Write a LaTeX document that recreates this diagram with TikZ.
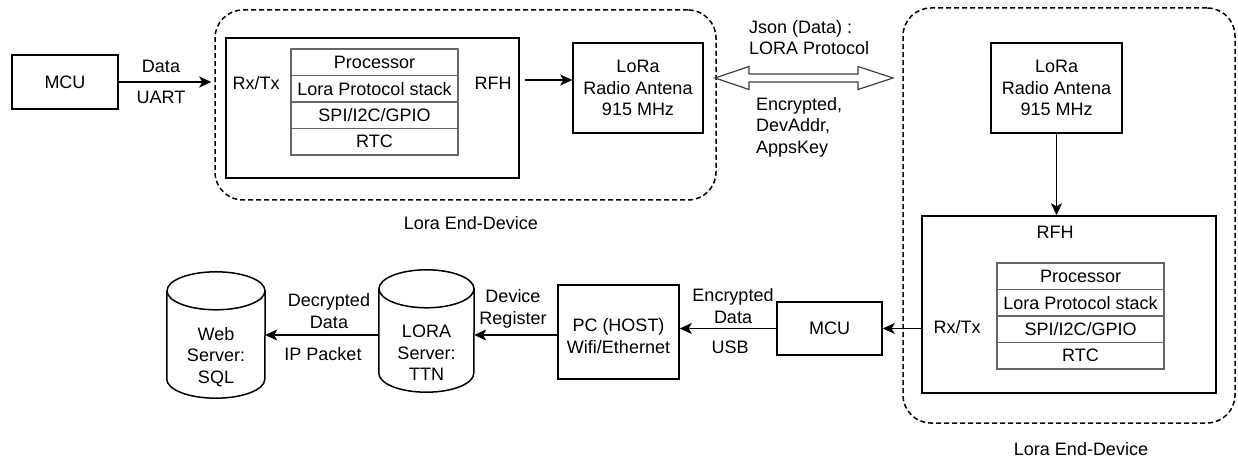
\documentclass[tikz,border=0pt]{standalone}
\usepackage{fontspec}
\setmainfont{Liberation Sans}
\usetikzlibrary{arrows.meta,calc}

% outline of a vertical cylinder drawn round a (text-free) node
\newcommand{\cylout}[3]{%
  \draw[line width=1.5pt,fill=white] ($(#1.north west)+(0,#3)$) -- ($(#1.south west)+(0,-#3)$)
     arc[start angle=180,end angle=360,x radius=#2pt,y radius=#3pt]
     -- ($(#1.north east)+(0,#3)$);
  \draw[line width=1.5pt,fill=white] ($(#1.north)+(0,#3)$) ellipse [x radius=#2pt, y radius=#3pt];
}

\begin{document}
\begin{tikzpicture}[x=1pt,y=-1pt,
  every node/.style={font=\fontsize{18}{21.6}\selectfont, text=black},
  box/.style={draw, line width=1.5pt, fill=white, inner sep=0pt, align=center},
  row/.style={draw=black!60, line width=1.5pt, minimum width=167pt, minimum height=26.5pt, inner sep=0pt},
  group/.style={draw, line width=1.5pt, dash pattern=on 5pt off 3pt, rounded corners=28pt, minimum width=#1},
  zone/.style={inner sep=0pt},
  link/.style={line width=1.5pt, -{Stealth[length=12pt,width=11pt,inset=3pt]}},
  lbl/.style={inner sep=0pt, align=center},
]
\useasboundingbox (0,0) rectangle (1238,462);

% ---------- transmitting end-device ----------
\node[box, minimum width=106pt, minimum height=54pt] (mcu1) at (65,82) {MCU};

\node[group=501pt, minimum height=190pt] (dev1) at (465.5,105) {};
\node[box, minimum width=293pt, minimum height=140pt] (core1) at (372.5,108) {};
\node[row] (proc1) at (374.5,62.25) {Processor};
\node[row] (stack1) at (374.5,88.75) {Lora Protocol stack};
\node[row] (spi1) at (374.5,115.25) {SPI/I2C/GPIO};
\node[row] (rtc1) at (374.5,141.75) {RTC};
\node[lbl] (rxtx1) at (256,83) {Rx/Tx};
\node[lbl] (rfh1) at (493,83) {RFH};
\node[box, minimum width=130pt, minimum height=90pt] (ant1) at (638,88)
  {LoRa\\Radio Antena\\915 MHz};
\node[lbl] (cap1) at (471,223) {Lora End-Device};

\draw[link] (mcu1.east) -- ([xshift=-3pt]mcu1.east -| dev1.west);
\node[lbl] (datalbl) at (161,66) {Data};
\node[lbl] (uartlbl) at (161,97) {UART};

\coordinate (rfhout) at (525,80);
\draw[link] (rfhout) -- (rfhout -| ant1.west);

% ---------- radio link ----------
\coordinate (linkl) at (715,78);
\coordinate (linkr) at (893,78);
\draw[line width=1.2pt, draw=black!75, fill=white, line join=miter]
  (linkl) -- ($(linkl)+(34,-11.5)$) -- ($(linkl)+(34,-4)$) -- ($(linkr)+(-35,-4)$)
  -- ($(linkr)+(-35,-11.5)$) -- (linkr) -- ($(linkr)+(-35,11.5)$) -- ($(linkr)+(-35,4)$)
  -- ($(linkl)+(34,4)$) -- ($(linkl)+(34,11.5)$) -- cycle;
\node[lbl, align=left, anchor=west] (jsonlbl) at (749,37.5) {Json (Data) :\\LORA Protocol};
\node[lbl, align=left, anchor=west] (keylbl) at (756,127) {Encrypted,\\DevAddr,\\AppsKey};

% ---------- receiving end-device ----------
\node[group=332pt, minimum height=415pt] (dev2) at (1069,215.5) {};
\node[box, minimum width=131pt, minimum height=90pt] (ant2) at (1056.5,88)
  {LoRa\\Radio Antena\\915 MHz};
\node[box, minimum width=294pt, minimum height=177pt] (core2) at (1069,304.5) {};
\node[lbl] (rfh2) at (1055,232) {RFH};
\node[row] (proc2) at (1080.5,276.25) {Processor};
\node[row] (stack2) at (1080.5,302.75) {Lora Protocol stack};
\node[row] (spi2) at (1080.5,329.25) {SPI/I2C/GPIO};
\node[row] (rtc2) at (1080.5,355.75) {RTC};
\node[lbl] (rxtx2) at (957,327) {Rx/Tx};
\node[lbl] (cap2) at (1081,449) {Lora End-Device};

\draw[link] (ant2.south) -- (ant2.south |- core2.north);

\node[box, minimum width=105pt, minimum height=53pt] (mcu2) at (829.5,328.5) {MCU};
\draw[link] (core2.west |- mcu2) -- (mcu2.east);

% ---------- host side ----------
\node[box, minimum width=121pt, minimum height=94pt] (pc) at (618.5,332) {};
\node[lbl] (pctext) at (618.5,336) {PC (HOST)\\Wifi/Ethernet};
\draw[link] (mcu2.west) -- (mcu2.west -| pc.east);
\node[lbl] (enclbl) at (733,306) {Encrypted\\Data};
\node[lbl] (usblbl) at (730,347) {USB};

\node[zone, minimum width=95pt, minimum height=122pt] (ttn) at (426.5,331) {};
\cylout{ttn}{47.5}{19}
\node[lbl] (ttntext) at (426.5,353) {LORA\\Server:\\TTN};

\node[zone, minimum width=98pt, minimum height=126pt] (web) at (216,335) {};
\cylout{web}{49}{19}
\node[lbl] (webtext) at (216,357) {Web\\Server:\\SQL};

\draw[link] (pc.west |- 0,335) -- (ttn.east |- 0,335);
\node[lbl] (reglbl) at (513,309) {Device\\Register};

\draw[link] (ttn.west |- 0,335) -- (web.east |- 0,335);
\node[lbl] (declbl) at (329,311) {Decrypted\\Data};
\node[lbl] (iplbl) at (323,354) {IP Packet};
\end{tikzpicture}
\end{document}
